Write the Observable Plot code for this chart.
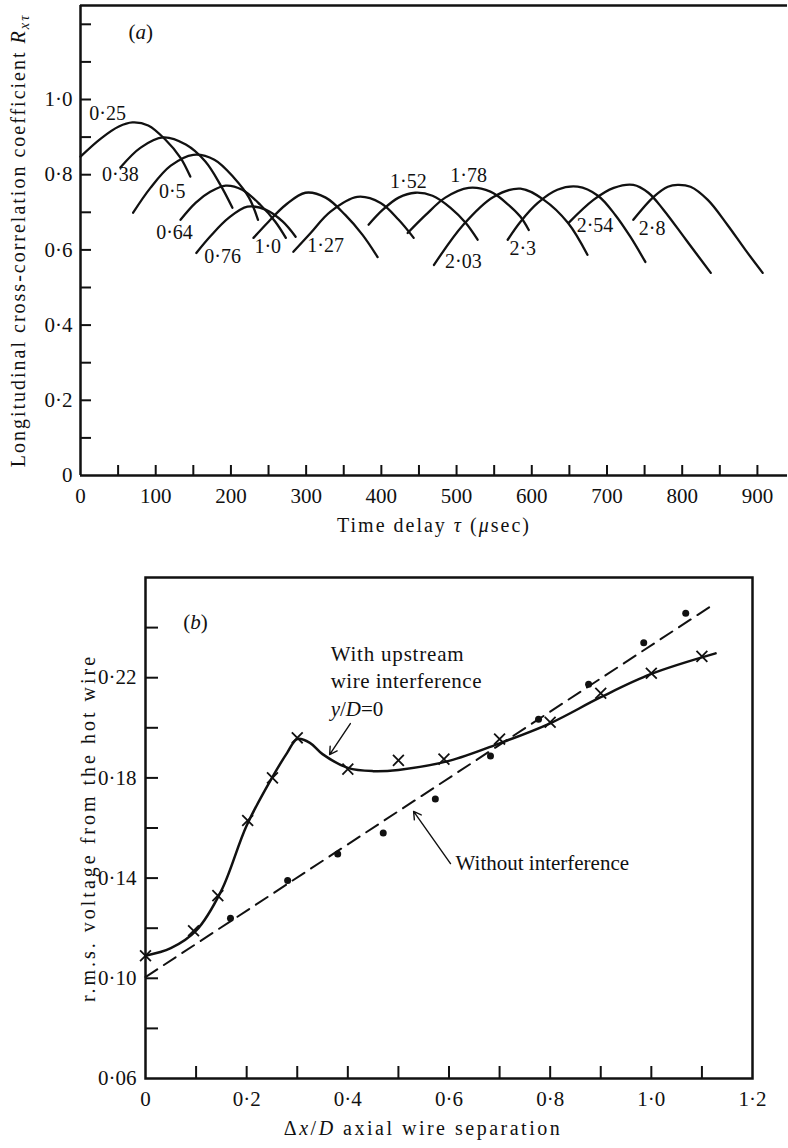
<!DOCTYPE html>
<html><head><meta charset="utf-8">
<script src="https://cdn.jsdelivr.net/npm/d3@7"></script>
<script src="https://cdn.jsdelivr.net/npm/@observablehq/plot@0.6"></script>
<style>
html,body{margin:0;padding:0;background:#fff;overflow:hidden;}
#a,#b{width:788px;}
svg{display:block;}
</style></head><body>
<div id="a"></div><div id="b"></div>
<script>
const INK = "#111";
const FONT = "Liberation Serif, Times New Roman, serif";

// ---------- Panel (a) data ----------
const sepLabels = ["0·25","0·38","0·5","0·64","0·76","1·0","1·27","1·52","1·78","2·03","2·3","2·54","2·8"];
const tau025 = [0, 27, 51, 69, 90, 113, 133, 146];
const r025   = [0.848, 0.896, 0.928, 0.939, 0.931, 0.893, 0.845, 0.795];
const tau038 = [53, 80, 110, 140, 166, 186, 202];
const r038   = [0.819, 0.872, 0.899, 0.880, 0.835, 0.773, 0.712];
const tau050 = [70, 93, 120, 150, 178, 204, 224, 236];
const r050   = [0.699, 0.765, 0.824, 0.853, 0.840, 0.792, 0.739, 0.680];
const tau064 = [133, 153, 173, 193, 215, 239, 259, 273];
const r064   = [0.680, 0.725, 0.755, 0.771, 0.760, 0.720, 0.675, 0.632];
const tau076 = [154, 173, 197, 222, 246, 269, 286];
const r076   = [0.592, 0.637, 0.685, 0.715, 0.707, 0.675, 0.635];
const tau100 = [230, 250, 273, 299, 326, 352, 375, 395];
const r100   = [0.632, 0.675, 0.720, 0.752, 0.739, 0.693, 0.640, 0.581];
const tau127 = [283, 306, 332, 368, 399, 423, 443];
const r127   = [0.595, 0.645, 0.701, 0.741, 0.725, 0.680, 0.632];
const tau152 = [383, 402, 423, 445, 468, 492, 512, 528];
const r152   = [0.667, 0.707, 0.739, 0.752, 0.744, 0.712, 0.672, 0.627];
const tau178 = [435, 459, 485, 516, 545, 569, 585, 596];
const r178   = [0.645, 0.693, 0.739, 0.765, 0.755, 0.720, 0.688, 0.653];
const tau203 = [470, 509, 549, 585, 616, 648, 674];
const r203   = [0.560, 0.667, 0.741, 0.763, 0.733, 0.672, 0.587];
const tau230 = [568, 585, 608, 634, 661, 688, 711, 731, 751];
const r230   = [0.627, 0.675, 0.725, 0.760, 0.768, 0.744, 0.693, 0.635, 0.568];
const tau254 = [649, 682, 709, 735, 755, 775, 805, 838];
const r254   = [0.672, 0.733, 0.765, 0.773, 0.752, 0.707, 0.627, 0.539];
const tau280 = [735, 762, 781, 794, 811, 834, 860, 884, 907];
const r280   = [0.680, 0.741, 0.768, 0.773, 0.768, 0.733, 0.667, 0.600, 0.539];

const labelTau = [36, 53, 122, 125, 189, 249, 326, 436, 516, 509, 588, 684, 760];
const labelR   = [0.963, 0.800, 0.755, 0.645, 0.581, 0.610, 0.611, 0.781, 0.797, 0.568, 0.603, 0.664, 0.656];

const tauTicks = [50,100,150,200,250,300,350,400,450,500,550,600,650,700,750,800,850,900];
const tauTickLabels = [0,100,200,300,400,500,600,700,800,900];
const rTicks = [0.1,0.2,0.3,0.4,0.5,0.6,0.7,0.8,0.9,1.0,1.1,1.2];
const rTickLabels = [0,0.2,0.4,0.6,0.8,1.0];

// ---------- Panel (b) data ----------
const crossX = [0, 0.095, 0.143, 0.202, 0.251, 0.30, 0.40, 0.50, 0.59, 0.70, 0.80, 0.90, 1.00, 1.10];
const crossY = [0.109, 0.119, 0.133, 0.163, 0.180, 0.196, 0.1835, 0.187, 0.1875, 0.1955, 0.2022, 0.2138, 0.2218, 0.2285];
const fitX = [0, 0.05, 0.1, 0.15, 0.2, 0.25, 0.28, 0.30, 0.325, 0.35, 0.4, 0.45, 0.5, 0.6, 0.7, 0.8, 0.9, 1.0, 1.127];
const fitY = [0.109, 0.112, 0.119, 0.135, 0.161, 0.180, 0.190, 0.1955, 0.194, 0.1895, 0.184, 0.1827, 0.1832, 0.1868, 0.1938, 0.2018, 0.2122, 0.2215, 0.2297];
const dashX = [0, 1.125];
const dashY = [0.1005, 0.2495];
const dotX = [0.168, 0.281, 0.38, 0.47, 0.573, 0.682, 0.777, 0.876, 0.985, 1.068];
const dotY = [0.124, 0.139, 0.1496, 0.158, 0.1716, 0.1887, 0.2034, 0.2174, 0.234, 0.2457];

const arrowX1 = [0.405, 0.603];
const arrowY1 = [0.2017, 0.1458];
const arrowX2 = [0.364, 0.530];
const arrowY2 = [0.1893, 0.1666];

const noteText = ["With upstream", "wire interference", "y/D=0", "Without interference"];
const noteX = [0.366, 0.366, 0.366, 0.613];
const noteY = [0.2265, 0.2157, 0.2045, 0.1430];

const bXTicks = [0.1,0.2,0.3,0.4,0.5,0.6,0.7,0.8,0.9,1.0,1.1];
const bXLabels = [0,0.2,0.4,0.6,0.8,1.0,1.2];
const bYTicks = [0.08,0.10,0.12,0.14,0.16,0.18,0.20,0.22,0.24];
const bYLabels = [0.06,0.10,0.14,0.18,0.22];

// ---------- helpers ----------
const fmt1 = d => d === 0 ? "0" : d3.format(".1f")(d).replace(".", "·");
const fmt2 = d => d3.format(".2f")(d).replace(".", "·");

function richify(svg, plain, parts, spacing) {
  d3.select(svg).selectAll("text").filter(function(){ return this.textContent === plain; }).each(function(){
    const t = d3.select(this);
    if (spacing) t.attr("letter-spacing", spacing);
    if (!parts) return;
    t.text(null);
    parts.forEach(([s, st]) => {
      const sp = t.append("tspan").text(s);
      if (st === "i" || st === "sub") sp.attr("font-style", "italic");
      if (st === "sub") sp.attr("font-size", "0.72em").attr("dy", "0.3em");
    });
  });
}

// ---------- Panel (a) ----------
const tauCurves = [tau025, tau038, tau050, tau064, tau076, tau100, tau127, tau152, tau178, tau203, tau230, tau254, tau280];
const rCurves = [r025, r038, r050, r064, r076, r100, r127, r152, r178, r203, r230, r254, r280];
const rowsA = sepLabels.flatMap((s, i) => tauCurves[i].map((t, j) => ({sep: s, tau: t, R: rCurves[i][j]})));

const titleAy = "Longitudinal cross-correlation coefficient Rxτ";
const titleAx = "Time delay τ (μsec)";

const plotA = Plot.plot({
  width: 788, height: 550,
  marginLeft: 80, marginRight: 1, marginTop: 5, marginBottom: 75,
  style: {fontFamily: FONT, fontSize: "21px", color: INK, background: "white", overflow: "visible"},
  x: {domain: [0, 940]},
  y: {domain: [0, 1.25]},
  marks: [
    Plot.ruleY([0], {stroke: INK, strokeWidth: 2.5}),
    Plot.ruleX([0], {stroke: INK, strokeWidth: 2.5}),
    Plot.ruleY([1.25], {stroke: INK, strokeWidth: 2.5}),
    Plot.axisX(tauTicks, {tickSize: 10, dy: -10, fill: "none", stroke: INK, strokeWidth: 2, label: null}),
    Plot.axisX(tauTickLabels, {tickSize: 0, tickPadding: 13, tickFormat: d => String(d), fill: INK, label: null}),
    Plot.axisY(rTicks, {tickSize: 11, dx: 11, fill: "none", stroke: INK, strokeWidth: 2, label: null}),
    Plot.axisY(rTickLabels, {tickSize: 0, tickPadding: 8, tickFormat: fmt1, fill: INK, label: null}),
    Plot.line(rowsA, {x: "tau", y: "R", z: "sep", curve: "catmull-rom", stroke: INK, strokeWidth: 2.3}),
    Plot.text(sepLabels, {x: labelTau, y: labelR, text: d => d, fontSize: 20, fill: INK}),
    Plot.text(["(a)"], {x: [80], y: [1.178], text: d => d, fontSize: 21, fill: INK}),
    Plot.text([titleAy], {frameAnchor: "left", textAnchor: "middle", dx: -62, rotate: -90, text: d => d, fontSize: 20, fill: INK}),
    Plot.text([titleAx], {frameAnchor: "bottom", textAnchor: "middle", dy: 56, text: d => d, fontSize: 20, fill: INK})
  ]
});
document.getElementById("a").appendChild(plotA);
richify(plotA, titleAy, [["Longitudinal cross-correlation coefficient ", null], ["R", "i"], ["xτ", "sub"]], "2px");
richify(plotA, titleAx, [["Time delay ", null], ["τ", "i"], [" (", null], ["μ", "i"], ["sec)", null]], "2px");
richify(plotA, "(a)", [["(", null], ["a", "i"], [")", null]]);

// ---------- Panel (b) ----------
const titleBy = "r.m.s. voltage from the hot wire";
const titleBx = "Δx/D axial wire separation";
const fitRows = fitX.map((x, i) => ({x, y: fitY[i]}));
const dashRows = dashX.map((x, i) => ({x, y: dashY[i]}));
const crossRows = crossX.map((x, i) => ({x, y: crossY[i]}));
const dotRows = dotX.map((x, i) => ({x, y: dotY[i]}));
const arrowRows = arrowX1.map((x, i) => ({x1: x, y1: arrowY1[i], x2: arrowX2[i], y2: arrowY2[i]}));

const plotB = Plot.plot({
  width: 788, height: 598,
  marginLeft: 145, marginRight: 36, marginTop: 27, marginBottom: 70,
  style: {fontFamily: FONT, fontSize: "21px", color: INK, background: "white", overflow: "visible"},
  x: {domain: [0, 1.2]},
  y: {domain: [0.06, 0.26]},
  marks: [
    Plot.frame({stroke: INK, strokeWidth: 2.5}),
    Plot.axisX(bXTicks, {tickSize: 12, dy: -12, fill: "none", stroke: INK, strokeWidth: 2, label: null}),
    Plot.axisX(bXLabels, {tickSize: 0, tickPadding: 13, tickFormat: fmt1, fill: INK, label: null}),
    Plot.axisY(bYTicks, {tickSize: 13, dx: 13, fill: "none", stroke: INK, strokeWidth: 2, label: null}),
    Plot.axisY(bYLabels, {tickSize: 0, tickPadding: 9, tickFormat: fmt2, fill: INK, label: null}),
    Plot.line(fitRows, {x: "x", y: "y", curve: "catmull-rom", stroke: INK, strokeWidth: 2.5}),
    Plot.line(dashRows, {x: "x", y: "y", stroke: INK, strokeWidth: 2, strokeDasharray: "14,8"}),
    Plot.dot(crossRows, {x: "x", y: "y", symbol: "times", r: 5, stroke: INK, strokeWidth: 1.8}),
    Plot.dot(dotRows, {x: "x", y: "y", r: 3.5, fill: INK, stroke: null}),
    Plot.arrow(arrowRows, {x1: "x1", y1: "y1", x2: "x2", y2: "y2", stroke: INK, strokeWidth: 1.4, headLength: 9}),
    Plot.text(noteText, {x: noteX, y: noteY, text: d => d, textAnchor: "start", dy: -7, fontSize: 21, fill: INK}),
    Plot.text(["(b)"], {x: [0.099], y: [0.242], text: d => d, fontSize: 21, fill: INK}),
    Plot.text([titleBy], {frameAnchor: "left", textAnchor: "middle", dx: -57, rotate: -90, text: d => d, fontSize: 20, fill: INK}),
    Plot.text([titleBx], {frameAnchor: "bottom", textAnchor: "middle", dx: -26, dy: 56, text: d => d, fontSize: 20, fill: INK})
  ]
});
document.getElementById("b").appendChild(plotB);
richify(plotB, "y/D=0", [["y", "i"], ["/", null], ["D", "i"], ["=0", null]]);
richify(plotB, "(b)", [["(", null], ["b", "i"], [")", null]]);
richify(plotB, "With upstream", null, "0.8px");
richify(plotB, "wire interference", null, "0.5px");
richify(plotB, titleBy, null, "3px");
richify(plotB, titleBx, [["Δ", null], ["x", "i"], ["/", null], ["D", "i"], [" axial wire separation", null]], "2.5px");
</script></body></html>
